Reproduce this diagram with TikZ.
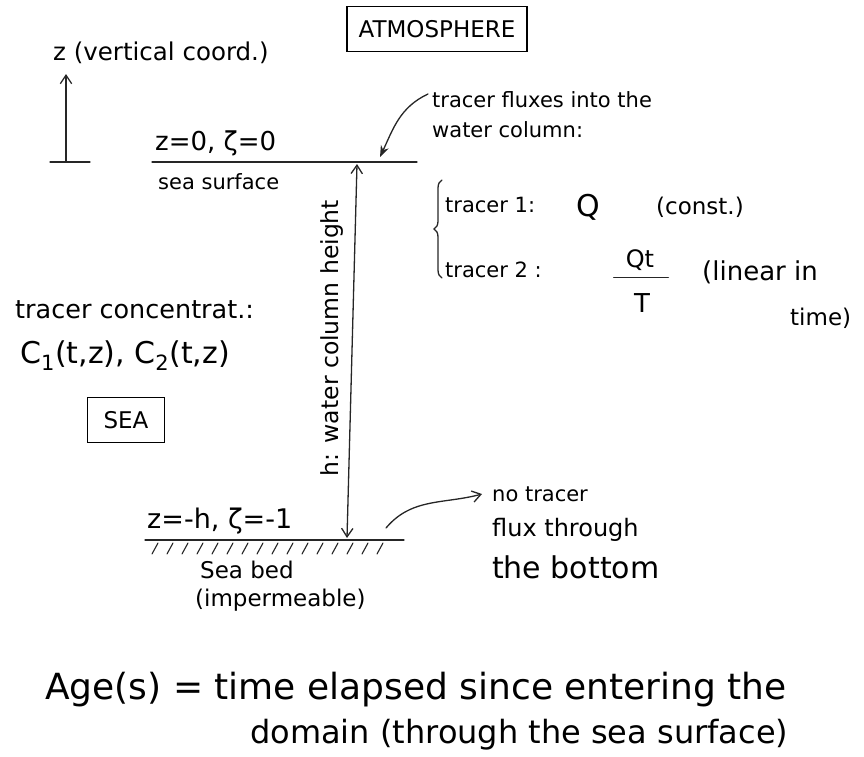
\documentclass[tikz,border=0pt]{standalone}
\usepackage{fontspec}
\setmainfont{DejaVu Sans}
\usepackage{tikz}
\usetikzlibrary{arrows.meta, positioning, decorations.pathreplacing, calc}

\newcommand{\fs}[1]{\fontsize{#1}{#1}\selectfont}

\begin{document}
\begin{tikzpicture}[
    x=1pt, y=-1pt,
    pen/.style={line width=1.3pt, line cap=round, black!85},
    hand/.style={inner sep=0pt, anchor=west, font=\fs{21}},
    small/.style={hand, font=\fs{23}},
    big/.style={hand, font=\fs{36}},
    region/.style={draw, line width=1.6pt, inner sep=0pt, minimum height=45,
        font=\fs{23}},
    pointer/.style={pen, -{Stealth[length=4mm, width=3mm]}},
    barb/.style={pen, -{Straight Barb[length=3mm, width=4mm]}}
]
    \useasboundingbox (0,0) rectangle (864,756);

    % vertical coordinate
    \node[hand, font=\fs{24.5}] (zlbl) at (53,53) {z (vertical coord.)};
    \coordinate (zbase) at (66,162);
    \coordinate (ztop) at (66,74);
    \draw[pen] ($(zbase)+(-16,0)$) -- ($(zbase)+(24,0)$);
    \draw[barb] (zbase) -- (ztop);

    \node[region, minimum width=180] (atmo) at (437,29) {ATMOSPHERE};
    \node[region, minimum width=77] (sea) at (126,420) {SEA};

    % sea surface
    \coordinate (surfL) at (152,162);
    \coordinate (surfR) at (417,162);
    \draw[pen] (surfL) -- (surfR);
    \node[hand, font=\fs{26}] (surfz) at (155,143) {z=0, ζ=0};
    \node[hand, font=\fs{21}] (surflbl) at (158,182) {sea surface};

    % sea bed
    \coordinate (bedL) at (145,540);
    \coordinate (bedR) at (404,540);
    \draw[pen] (bedL) -- (bedR);
    \foreach \x in {158,173,...,390}
        \draw[pen, line width=1.1pt] (\x,543) -- ++(-6,11);
    \node[hand, font=\fs{27}] (bedz) at (147,521) {z=-h, ζ=-1};
    \node[small] (bedlbl) at (200,570) {Sea bed};
    \node[small] (bedimp) at (195,600) {(impermeable)};

    % water column
    \coordinate (surfH) at (357,164);
    \coordinate (bedH) at (347,538);
    \draw[pen, {Straight Barb[length=3mm, width=4mm]}-{Straight Barb[length=3mm, width=4mm]}] (surfH) -- (bedH);
    \node[hand, anchor=center, rotate=90, font=\fs{23.5}] (hlbl) at (332,338) {h: water column height};

    % tracer fluxes
    \node[hand] (flux1) at (432,100) {tracer fluxes into the};
    \node[hand] (flux2) at (432,130) {water column:};
    \coordinate (surfA) at (380,157);
    \draw[pointer] ([xshift=-4, yshift=6]flux1.west) to[out=205, in=65] (surfA);
    \draw[pen, decorate, decoration={brace, amplitude=8pt}] (442,278) -- (442,180);
    \node[hand] (tr1) at (445,205) {tracer 1:};
    \node[hand, font=\fs{30}] (q1) at (576,207) {Q};
    \node[hand, font=\fs{23}] (q1c) at (656,207) {(const.)};
    \node[hand] (tr2) at (445,270) {tracer 2 :};
    \node[hand, anchor=center, font=\fs{24}] (q2num) at (640,260) {Qt};
    \node[hand, anchor=center, font=\fs{26}] (q2den) at (642,303) {T};
    \draw[pen] ([xshift=-12, yshift=-7]q2num.south west) -- ([xshift=14, yshift=-7]q2num.south east);
    \node[hand, font=\fs{26}] (q2c) at (702,272) {(linear in};
    \node[hand, font=\fs{23}] (q2t) at (790,318) {time)};

    % concentrations
    \node[hand, font=\fs{25.5}] (conc) at (15,310) {tracer concentrat.:};
    \node[hand, font=\fs{30}] (cvals) at (20,356) {C\textsubscript{1}(t,z), C\textsubscript{2}(t,z)};

    % bottom boundary
    \node[hand] (nof1) at (492,494) {no tracer};
    \node[hand, font=\fs{24}] (nof2) at (492,530) {flux through};
    \node[hand, font=\fs{30}] (nof3) at (492,567) {the bottom};
    \coordinate (bedA) at (386,528);
    \draw[barb] (bedA) to[out=50, in=195] ([xshift=-10]nof1.west);

    % age definition
    \node[big] (age1) at (45,690) {Age(s) = time elapsed since entering the};
    \node[big, font=\fs{32}] (age2) at (250,735) {domain (through the sea surface)};
\end{tikzpicture}
\end{document}
